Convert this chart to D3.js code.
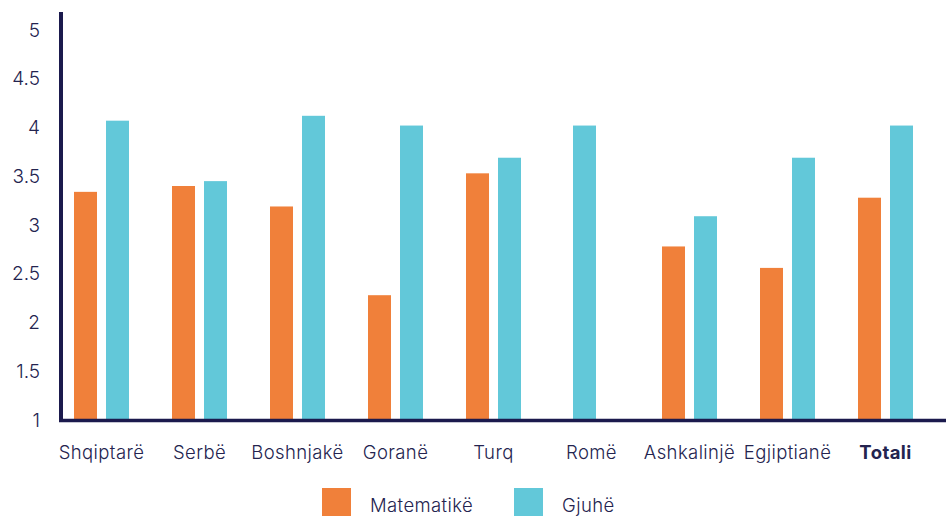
<!DOCTYPE html>
<html>
<head>
<meta charset="utf-8">
<script src="https://cdn.jsdelivr.net/npm/d3@7"></script>
<style>
  html, body { margin: 0; padding: 0; background: #fff; }
  svg { display: block; }
  text { font-family: Inter, Roboto, sans-serif; fill: #24244f; }
</style>
</head>
<body>
<svg id="chart" width="946" height="516"></svg>
<script>
const categories = ["Shqiptarë", "Serbë", "Boshnjakë", "Goranë", "Turq", "Romë", "Ashkalinjë", "Egjiptianë", "Totali"];
const seriesNames = ["Matematikë", "Gjuhë"];
const matematike = [3.34, 3.40, 3.19, 2.28, 3.53, null, 2.78, 2.56, 3.28];
const gjuhe = [4.07, 3.45, 4.12, 4.02, 3.69, 4.02, 3.09, 3.69, 4.02];
const yTicks = [1, 1.5, 2, 2.5, 3, 3.5, 4, 4.5, 5];
const colors = ["#F0803A", "#62C8D9"];

const series = [matematike, gjuhe];
const svg = d3.select("#chart");

const x = d3.scaleBand().domain(categories).range([52.5, 934.5]).padding(0);
const xSub = d3.scaleBand().domain(seriesNames).range([0, 55]).paddingInner(9 / 32).paddingOuter(0);
const y = d3.scaleLinear().domain([1, 5]).range([420, 30]);

// bars
categories.forEach((c, i) => {
  const present = seriesNames.filter((s, k) => series[k][i] != null);
  const center = x(c) + x.bandwidth() / 2;
  seriesNames.forEach((s, k) => {
    const v = series[k][i];
    if (v == null) return;
    let bx;
    if (present.length === 1) {
      bx = center - xSub.bandwidth() / 2 - 7;
    } else {
      bx = center - 27.5 + xSub(s);
    }
    svg.append("rect")
      .attr("x", bx)
      .attr("y", y(v))
      .attr("width", xSub.bandwidth())
      .attr("height", y(1) - y(v))
      .attr("fill", colors[k]);
  });
});

// y axis labels
const yAxis = d3.axisLeft(y).tickValues(yTicks).tickSize(0).tickPadding(0).tickFormat(d => String(d));
const gy = svg.append("g").attr("transform", "translate(40,0)").call(yAxis);
gy.select(".domain").remove();
gy.selectAll("text").attr("font-size", 19).attr("fill", "#24244f")
  .style("font-family", "Inter, Roboto, sans-serif").attr("font-weight", 300);

// axis lines
svg.append("line").attr("x1", 61).attr("x2", 61).attr("y1", 12).attr("y2", 422)
  .attr("stroke", "#1b1a4d").attr("stroke-width", 4);
svg.append("line").attr("x1", 59).attr("x2", 946).attr("y1", y(1) + 0.5).attr("y2", y(1) + 0.5)
  .attr("stroke", "#1b1a4d").attr("stroke-width", 3.5);

// x labels
const xAxis = d3.axisBottom(x).tickSize(0).tickPadding(0);
const gx = svg.append("g").attr("transform", "translate(0,444)").call(xAxis);
gx.select(".domain").remove();
gx.selectAll("text")
  .attr("dy", "0.8em")
  .attr("font-size", 18.5)
  .attr("fill", "#24244f")
  .style("font-family", "Inter, Roboto, sans-serif")
  .style("letter-spacing", "0.4px")
  .attr("font-weight", d => d === "Totali" ? 700 : 350);

// legend
const legendX = [322, 514];
seriesNames.forEach((s, k) => {
  svg.append("rect").attr("x", legendX[k]).attr("y", 488).attr("width", 29).attr("height", 29).attr("fill", colors[k]);
  svg.append("text").attr("x", legendX[k] + 48).attr("y", 512).attr("font-size", 18.5)
    .attr("font-weight", 350).style("letter-spacing", "0.4px").text(s);
});
</script>
</body>
</html>
